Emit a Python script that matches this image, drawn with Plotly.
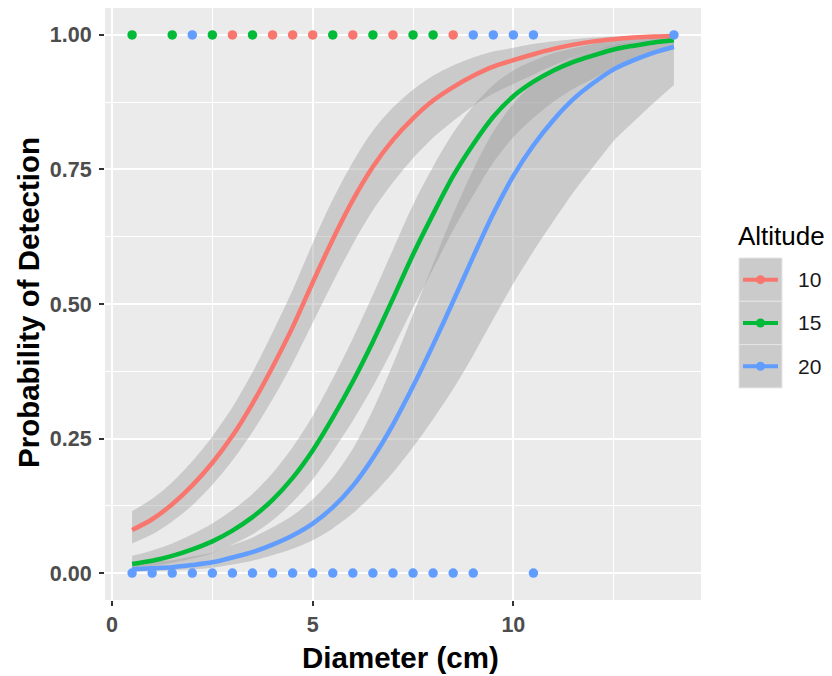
import plotly.graph_objects as go

# Diameter grid (cm) at which the fitted detection curves are tabulated
diameter = [0.5, 1.0, 1.5, 2.0, 2.5, 3.0, 3.5, 4.0, 4.5, 5.0, 5.5, 6.0, 6.5, 7.0,
            7.5, 8.0, 8.5, 9.0, 9.5, 10.0, 10.5, 11.0, 11.5, 12.0, 12.5, 13.0, 13.5, 14.0]

# Altitude 10: fitted probability and 95% band
fit_10 = [0.080, 0.100, 0.128, 0.163, 0.205, 0.255, 0.315, 0.383, 0.457, 0.540, 0.620, 0.693, 0.755, 0.805,
          0.845, 0.878, 0.903, 0.924, 0.941, 0.953, 0.964, 0.974, 0.982, 0.988, 0.992, 0.995, 0.997, 0.998]
lo_10 = [0.055, 0.072, 0.096, 0.126, 0.164, 0.209, 0.262, 0.323, 0.390, 0.465, 0.540, 0.611, 0.674, 0.726,
         0.771, 0.809, 0.840, 0.868, 0.891, 0.909, 0.926, 0.943, 0.959, 0.971, 0.979, 0.986, 0.991, 0.994]
hi_10 = [0.115, 0.138, 0.169, 0.208, 0.254, 0.308, 0.373, 0.447, 0.526, 0.613, 0.694, 0.764, 0.822, 0.865,
         0.898, 0.924, 0.943, 0.958, 0.969, 0.976, 0.983, 0.988, 0.992, 0.995, 0.997, 0.998, 0.999, 0.9993]

# Altitude 15
fit_15 = [0.017, 0.023, 0.032, 0.044, 0.059, 0.079, 0.104, 0.136, 0.177, 0.228, 0.289, 0.356, 0.430, 0.510,
          0.592, 0.667, 0.738, 0.797, 0.848, 0.886, 0.913, 0.934, 0.950, 0.962, 0.973, 0.980, 0.986, 0.990]
lo_15 = [0.009, 0.013, 0.019, 0.027, 0.037, 0.053, 0.072, 0.098, 0.132, 0.174, 0.226, 0.283, 0.347, 0.418,
         0.493, 0.565, 0.637, 0.702, 0.763, 0.810, 0.846, 0.876, 0.900, 0.919, 0.939, 0.952, 0.964, 0.973]
hi_15 = [0.032, 0.042, 0.055, 0.072, 0.092, 0.117, 0.147, 0.186, 0.234, 0.292, 0.361, 0.436, 0.517, 0.601,
         0.684, 0.755, 0.818, 0.868, 0.907, 0.934, 0.952, 0.966, 0.975, 0.983, 0.988, 0.992, 0.995, 0.996]

# Altitude 20
fit_20 = [0.007, 0.009, 0.011, 0.015, 0.020, 0.029, 0.039, 0.053, 0.070, 0.092, 0.122, 0.162, 0.214, 0.276,
          0.347, 0.424, 0.505, 0.588, 0.668, 0.738, 0.795, 0.842, 0.881, 0.911, 0.936, 0.953, 0.967, 0.978]
lo_20 = [0.003, 0.004, 0.005, 0.007, 0.010, 0.016, 0.023, 0.033, 0.045, 0.061, 0.083, 0.111, 0.146, 0.187,
         0.234, 0.286, 0.342, 0.405, 0.472, 0.538, 0.598, 0.654, 0.708, 0.756, 0.803, 0.839, 0.874, 0.907]
hi_20 = [0.018, 0.022, 0.024, 0.031, 0.038, 0.052, 0.066, 0.085, 0.107, 0.137, 0.177, 0.231, 0.303, 0.388,
         0.481, 0.575, 0.667, 0.750, 0.820, 0.872, 0.910, 0.938, 0.958, 0.971, 0.981, 0.987, 0.992, 0.995]

# Observed detections (1 = detected, 0 = missed)
obs_x_10 = [3.0, 4.0, 4.5, 5.0, 6.0, 7.0, 8.5]
obs_y_10 = [1, 1, 1, 1, 1, 1, 1]
obs_x_15 = [0.5, 1.5, 2.5, 3.5, 5.5, 6.5, 7.5, 8.0]
obs_y_15 = [1, 1, 1, 1, 1, 1, 1, 1]
obs_x_20 = [2.0, 9.0, 9.5, 10.0, 10.5, 14.0,
            0.5, 1.0, 1.5, 2.0, 2.5, 3.0, 3.5, 4.0, 4.5, 5.0, 5.5, 6.0, 6.5, 7.0, 7.5, 8.0, 8.5, 9.0, 10.5]
obs_y_20 = [1, 1, 1, 1, 1, 1,
            0, 0, 0, 0, 0, 0, 0, 0, 0, 0, 0, 0, 0, 0, 0, 0, 0, 0, 0]

altitudes = ["10", "15", "20"]
colors = ["#F8766D", "#00BA38", "#619CFF"]

x_ticks = [0, 5, 10]
x_tick_text = ["0", "5", "10"]
y_ticks = [0, 0.25, 0.5, 0.75, 1.0]
y_tick_text = ["0.00", "0.25", "0.50", "0.75", "1.00"]

FONT = "Liberation Sans, Arial, sans-serif"
W, H = 832, 676
ML, MR, MT, MB = 105, 131, 8, 76
PW, PH = W - ML - MR, H - MT - MB

def px(xp):
    return (xp - ML) / PW

def py(yp):
    return (H - MB - yp) / PH

fits = [fit_10, fit_15, fit_20]
los = [lo_10, lo_15, lo_20]
his = [hi_10, hi_15, hi_20]
obs = [(obs_x_10, obs_y_10), (obs_x_15, obs_y_15), (obs_x_20, obs_y_20)]

SMOOTH = dict(shape="spline", smoothing=0.8)

fig = go.Figure()

# confidence ribbons: lower edge, then upper edge filled down to it
for lo, hi in zip(los, his):
    fig.add_trace(go.Scatter(
        x=diameter, y=lo, mode="lines",
        line=dict(width=0, color="rgba(0,0,0,0)", **SMOOTH),
        hoverinfo="skip", showlegend=False))
    fig.add_trace(go.Scatter(
        x=diameter, y=hi, mode="lines", fill="tonexty",
        fillcolor="rgba(153,153,153,0.4)",
        line=dict(width=0, color="rgba(0,0,0,0)", **SMOOTH),
        hoverinfo="skip", showlegend=False))

# fitted curves
for fit, col in zip(fits, colors):
    fig.add_trace(go.Scatter(
        x=diameter, y=fit, mode="lines",
        line=dict(color=col, width=4.5, **SMOOTH), showlegend=False))

# observations
for (ox, oy), col in zip(obs, colors):
    fig.add_trace(go.Scatter(
        x=ox, y=oy, mode="markers",
        marker=dict(color=col, size=9.5, line=dict(width=0)), showlegend=False))

shapes = []
annotations = []

# legend drawn by hand: grey keys with coloured line and point
key_left, key_right = 739, 782
key_top = 258
key_h = 43.3
for i, (lab, col) in enumerate(zip(altitudes, colors)):
    top = key_top + i * key_h
    cy = top + key_h / 2
    shapes.append(dict(type="rect", xref="paper", yref="paper",
                       x0=px(key_left), x1=px(key_right), y0=py(top + key_h), y1=py(top),
                       fillcolor="#CBCBCB", line=dict(color="#E4E4E4", width=1), layer="above"))
    shapes.append(dict(type="line", xref="paper", yref="paper",
                       x0=px(743), x1=px(778), y0=py(cy), y1=py(cy),
                       line=dict(color=col, width=4), layer="above"))
    shapes.append(dict(type="circle", xref="paper", yref="paper",
                       x0=px(760.5 - 4.5), x1=px(760.5 + 4.5), y0=py(cy + 4.5), y1=py(cy - 4.5),
                       fillcolor=col, line=dict(width=0), layer="above"))
    annotations.append(dict(xref="paper", yref="paper", x=px(796), y=py(cy),
                            xanchor="left", yanchor="middle", showarrow=False, text=lab,
                            font=dict(family=FONT, size=21, color="#1A1A1A")))

annotations.append(dict(xref="paper", yref="paper", x=px(736), y=py(236),
                        xanchor="left", yanchor="middle", showarrow=False, text="Altitude",
                        font=dict(family=FONT, size=26, color="#000000")))

# axis titles
annotations.append(dict(xref="paper", yref="paper", x=px(400), y=py(657),
                        xanchor="center", yanchor="middle", showarrow=False, text="<b>Diameter (cm)</b>",
                        font=dict(family=FONT, size=29.5, color="#000000")))
annotations.append(dict(xref="paper", yref="paper", x=px(28), y=py(303),
                        xanchor="center", yanchor="middle", showarrow=False, textangle=-90,
                        text="<b>Probability of Detection</b>",
                        font=dict(family=FONT, size=29.5, color="#000000")))

axis_common = dict(
    showline=False, zeroline=False, showgrid=True, gridcolor="#FFFFFF", gridwidth=2,
    ticks="outside", ticklen=5, tickwidth=1.5, tickcolor="#333333",
    tickfont=dict(family=FONT, size=21.5, color="#4D4D4D", weight="bold"),
)

fig.update_layout(
    width=W, height=H,
    margin=dict(l=ML, r=MR, t=MT, b=MB, pad=0),
    paper_bgcolor="#FFFFFF", plot_bgcolor="#EBEBEB",
    showlegend=False,
    xaxis=dict(range=[-0.175, 14.675], tickvals=x_ticks, ticktext=x_tick_text,
               minor=dict(tickvals=[2.5, 7.5, 12.5], showgrid=True, gridcolor="#FFFFFF",
                          gridwidth=1, ticks=""),
               **axis_common),
    yaxis=dict(range=[-0.05, 1.05], tickvals=y_ticks, ticktext=y_tick_text,
               ticklabelstandoff=3,
               minor=dict(tickvals=[0.125, 0.375, 0.625, 0.875], showgrid=True,
                          gridcolor="#FFFFFF", gridwidth=1, ticks=""),
               **axis_common),
    shapes=shapes,
    annotations=annotations,
)

fig.write_html("out.html", config={"displayModeBar": False})
